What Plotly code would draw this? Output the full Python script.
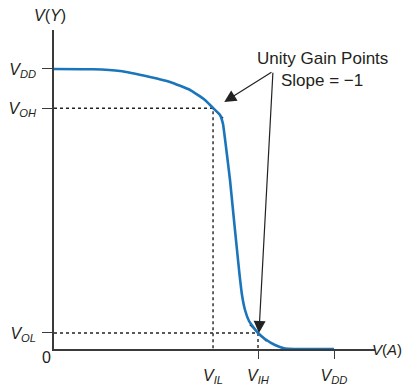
import plotly.graph_objects as go

# Transfer curve V(A) -> V(Y), VDD = 5
vdd = 5.0
vil = 2.84
vih = 3.643
voh = 4.30
vol = 0.286

vin = [0.0, 0.696, 1.179, 1.714, 2.071, 2.429, 2.696, 2.839, 2.964, 3.018, 3.045,
       3.089, 3.143, 3.196, 3.25, 3.304, 3.357, 3.411, 3.482, 3.571, 3.643, 3.768,
       3.946, 4.125, 5.0]
vout = [5.0, 4.995, 4.964, 4.857, 4.768, 4.625, 4.446, 4.304, 4.179, 4.018, 3.821,
        3.464, 3.018, 2.482, 1.946, 1.411, 0.964, 0.696, 0.5, 0.375, 0.286, 0.179,
        0.071, 0.009, 0.0]

y_ticks = [vol, voh, vdd]
y_labels = ["<i>V</i><sub><i>OL</i></sub>", "<i>V</i><sub><i>OH</i></sub>",
            "<i>V</i><sub><i>DD</i></sub>"]
x_ticks = [vil, vih, vdd]
x_labels = ["<i>V</i><sub><i>IL</i></sub>", "<i>V</i><sub><i>IH</i></sub>",
            "<i>V</i><sub><i>DD</i></sub>"]

tan_half = [0.18, 0.15]

FONT = "Liberation Sans, Arial, sans-serif"
TXT = "#231f20"
AX = "#3a3a3a"
BLUE = "#1b75bb"

fig = go.Figure()

# dotted guides
fig.add_trace(go.Scatter(x=[0, vil, vil], y=[voh, voh, 0], mode="lines",
                         line=dict(color="#222", width=1.4, dash="dot"), hoverinfo="skip"))
fig.add_trace(go.Scatter(x=[0, vih, vih], y=[vol, vol, 0], mode="lines",
                         line=dict(color="#222", width=1.4, dash="dot"), hoverinfo="skip"))
# tangents (slope -1)
for (px, py), h in zip([(vil, voh), (vih, vol)], tan_half):
    fig.add_trace(go.Scatter(x=[px - h, px + h], y=[py + h, py - h], mode="lines",
                             line=dict(color="#222", width=1.2), hoverinfo="skip"))
# curve
fig.add_trace(go.Scatter(x=vin, y=vout, mode="lines",
                         line=dict(color=BLUE, width=2.6, shape="spline", smoothing=0.4),
                         hoverinfo="skip"))

tail_x, tail_y = 3.91, 4.96
heads = [(3.04, 4.41), (3.66, vol)]
for hx, hy in heads:
    fig.add_annotation(x=hx, y=hy, ax=tail_x, ay=tail_y, xref="x", yref="y", axref="x", ayref="y",
                       text="", showarrow=True, arrowhead=2, arrowsize=2.0, arrowwidth=1.2,
                       arrowcolor="#222", standoff=0)

fig.add_annotation(x=4.786, y=5.196, xref="x", yref="y", text="Unity Gain Points", showarrow=False,
                   xanchor="center", yanchor="middle",
                   font=dict(family=FONT, size=17, color=TXT))
fig.add_annotation(x=4.786, y=4.80, xref="x", yref="y", text="Slope = \u22121", showarrow=False,
                   xanchor="center", yanchor="middle",
                   font=dict(family=FONT, size=17, color=TXT))

fig.add_annotation(x=-0.0125, y=1.047, xref="paper", yref="paper", text="<i>V</i>(<i>Y</i>)",
                   xanchor="center", yanchor="middle",
                   showarrow=False, font=dict(family=FONT, size=16, color=TXT))
fig.add_annotation(x=1.09, y=0, xref="paper", yref="paper", text="<i>V</i>(<i>A</i>)",
                   xanchor="right", yanchor="middle",
                   showarrow=False, font=dict(family=FONT, size=15, color=TXT))
fig.add_annotation(x=-0.022, y=-0.028, xref="paper", yref="paper", text="0",
                   xanchor="center", yanchor="middle",
                   showarrow=False, font=dict(family=FONT, size=16, color=TXT))

# page body has an 8px margin: size the figure so the plot lands where the reference has it
fig.update_layout(
    width=402, height=380,
    margin=dict(l=46, r=35, t=22, b=39),
    paper_bgcolor="white", plot_bgcolor="white",
    showlegend=False,
    font=dict(family=FONT, size=16, color=TXT),
    xaxis=dict(range=[0, 5.732], showgrid=False, zeroline=False, showline=True, linecolor=AX, linewidth=1.5,
               tickmode="array", tickvals=x_ticks, ticktext=x_labels, ticks="",
               ticklabelstandoff=11, automargin=False,
               minor=dict(tickmode="array", tickvals=[vih, vdd], ticks="outside", ticklen=8,
                          tickcolor=AX, tickwidth=1.3, showgrid=False),
               fixedrange=True),
    yaxis=dict(range=[0, 5.696], showgrid=False, zeroline=False, showline=True, linecolor=AX, linewidth=1.5,
               tickmode="array", tickvals=y_ticks, ticktext=y_labels, ticks="outside", ticklen=10,
               tickcolor=AX, tickwidth=1.3, ticklabelstandoff=3, automargin=False, fixedrange=True),
)

fig.write_html("out.html")
